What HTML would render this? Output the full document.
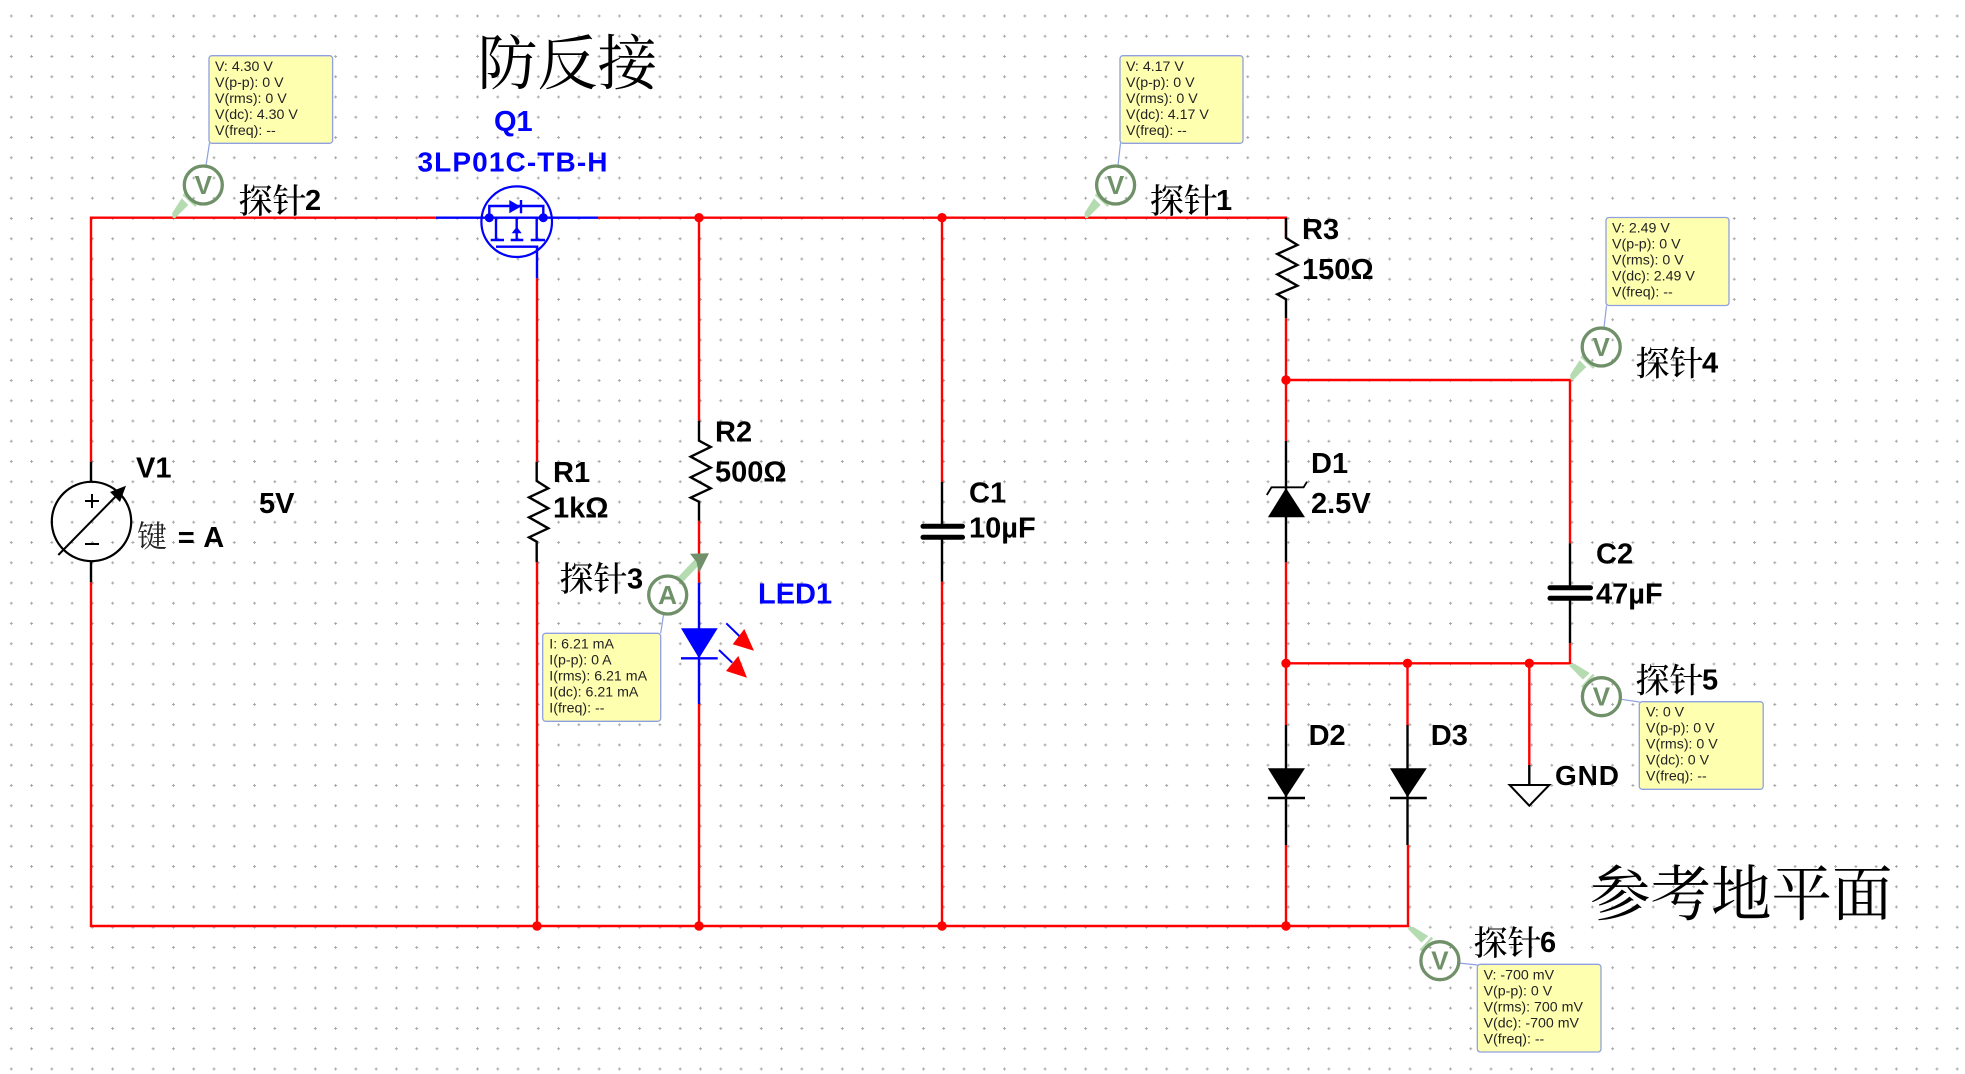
<!DOCTYPE html>
<html><head><meta charset="utf-8"><style>
html,body{margin:0;padding:0;background:#fff}
svg{display:block}
.l{font:bold 29px "Liberation Sans",sans-serif;fill:#000;transform:translate(-1px,0)}
.b{font:bold 29px "Liberation Sans",sans-serif;fill:#0000ff;transform:translate(-1px,0)}
.c{font:500 34px "Liberation Serif","Noto Serif CJK SC",serif;fill:#000;transform:translate(-1.5px,0)}
.t{font:400 60px "Liberation Serif","Noto Serif CJK SC",serif;fill:#000}
.m{font:14.2px "Liberation Sans",sans-serif;fill:#222}
.box{fill:#ffffb0;stroke:#8fa0e0;stroke-width:1.3}
.call{fill:none;stroke:#8fa0e0;stroke-width:1.2}
.r{fill:none;stroke:#ff0000;stroke-width:2.4}
.k{fill:none;stroke:#000;stroke-width:2.4}
.u{fill:none;stroke:#0000ff;stroke-width:2.4}
.pc{fill:#fff;fill-opacity:0;stroke:#6f9068;stroke-width:3.3}
.pl{font:bold 26px "Liberation Sans",sans-serif;fill:#6f9068;text-anchor:middle}
.ph{fill:#b5dbb0}
.pb{stroke:#b5dbb0;stroke-width:2.5;fill:none}
</style></head><body>
<svg width="1965" height="1074" viewBox="0 0 1965 1074" xmlns="http://www.w3.org/2000/svg">
<defs>
<pattern id="g" x="9.3" y="14" width="20.27" height="20.25" patternUnits="userSpaceOnUse">
<path d="M0.5 2H3.5M2 0.5V3.5" stroke="#a8a8a8" stroke-width="1" fill="none"/>
</pattern>
</defs>
<rect width="1965" height="1074" fill="#fff"/>
<rect width="1965" height="1074" fill="url(#g)"/>

<!-- red wires -->
<path class="r" d="M91 461.7V217.7H435.8M598 217.7H1286V238M1286 318.3V441M1286 562.3V725M1286 380H1570V543.3M1570 643.3V663.3H1286M1407.5 663.3V725M1529.3 663.3V765M91 582.3V926H1408V845M537 278.3V461.7M537 562.3V926M699 217.7V420.7M699 520.7V582.7M699 704V926M942 217.7V481.7M942 581.7V926M1286 845V926"/>
<g fill="#ff0000">
<circle cx="699" cy="217.7" r="4.7"/><circle cx="942" cy="217.7" r="4.7"/>
<circle cx="1286" cy="380" r="4.7"/>
<circle cx="1286" cy="663.3" r="4.7"/><circle cx="1407.5" cy="663.3" r="4.7"/><circle cx="1529.3" cy="663.3" r="4.7"/>
<circle cx="537" cy="926" r="4.7"/><circle cx="699" cy="926" r="4.7"/><circle cx="942" cy="926" r="4.7"/><circle cx="1286" cy="926" r="4.7"/>
</g>

<!-- V1 -->
<path class="k" d="M91 461.7V481.7M91 561V582.3"/>
<circle cx="91.5" cy="521.5" r="39.7" fill="none" stroke="#000" stroke-width="2.2"/>
<path d="M85 501H99M92 494V508M85 544H99" stroke="#000" stroke-width="2" fill="none"/>
<path d="M58.3 555L122 490" stroke="#000" stroke-width="2" fill="none"/>
<polygon points="126,485.7 120,502 110,492" fill="#000"/>
<text class="l" x="137" y="477.7">V1</text>
<text class="l" x="260" y="513">5V</text>
<text x="137" y="547" style="font:400 30px 'Liberation Serif','Noto Serif CJK SC',serif;fill:#222">键</text>
<text class="l" x="178.7" y="547">=</text>
<text class="l" x="204.3" y="547">A</text>

<!-- Q1 -->
<text class="b" x="495" y="131">Q1</text>
<text class="b" x="418.5" y="171.7" textLength="190" lengthAdjust="spacing" style="font-size:28px">3LP01C-TB-H</text>
<path class="u" d="M435.8 217.7H598M537 246.7V278.3"/>
<circle cx="516.7" cy="221.7" r="35.3" fill="none" stroke="#0000ff" stroke-width="2.2"/>
<path class="u" d="M489.3 217.7V206H543.3V217.7M496 217.7V239.3M516.7 217.7V239.3M536.7 217.7V239.3M490.7 240H504M510.7 240H523.3M530.7 240H545M496 246.7H538.3"/>
<circle cx="489.3" cy="217.7" r="4.5" fill="#0000ff"/>
<circle cx="543.3" cy="217.7" r="4.5" fill="#0000ff"/>
<polygon points="509.3,200 509.3,213.3 520.7,206.7" fill="#0000ff"/>
<path class="u" d="M521 200V213.3"/>
<polygon points="511.7,233.3 521.7,233.3 516.7,226.7" fill="#0000ff"/>

<!-- R1 -->
<polyline class="k" points="536.7,461.7 536.7,481 548.3,488.3 529,497.3 548.3,508.3 529,517.3 548.3,528.3 529,537.3 536.7,541.7 536.7,562.3"/>
<text class="l" x="554" y="482">R1</text>
<text class="l" x="554" y="517.5">1kΩ</text>
<!-- R2 -->
<polyline class="k" points="699,420.7 699,440.7 710.7,447 690.7,456.7 710.7,467.7 690.7,477.3 710.7,488.3 690.7,497.7 699,501.7 699,520.7"/>
<text class="l" x="716" y="441.7">R2</text>
<text class="l" x="716" y="481.5">500Ω</text>
<!-- R3 -->
<polyline class="k" points="1286,218 1286,238 1297.4,245 1277.3,254 1297.4,265 1277.3,274.3 1297.4,285.7 1277.3,294.3 1286,299.3 1286,318.3"/>
<text class="l" x="1303" y="239">R3</text>
<text class="l" x="1303" y="279">150Ω</text>

<!-- LED -->
<path class="u" d="M699 582.7V704M681 658.3H717.7"/>
<polygon points="681,628.3 717.7,628.3 699,658.3" fill="#0000ff"/>
<path d="M726.3 623.3L739.3 636M719 650L732.3 662.7" stroke="#0000ff" stroke-width="2" fill="none"/>
<polygon points="744.3,629 754,650.7 732.7,644.3" fill="#ff0000"/>
<polygon points="738.3,656 747,677.7 726,671" fill="#ff0000"/>
<text class="b" x="759" y="603.3">LED1</text>

<!-- C1 -->
<path class="k" d="M942 481.7V526M942 537V581.7"/>
<path d="M923 526.3H962.5M923 537.3H962.5" stroke="#000" stroke-width="5" stroke-linecap="round" fill="none"/>
<text class="l" x="970" y="502.3">C1</text>
<text class="l" x="970" y="537.5">10µF</text>
<!-- C2 -->
<path class="k" d="M1570 543.3V588M1570 598V643.3"/>
<path d="M1550 587.7H1590.5M1550 598.3H1590.5" stroke="#000" stroke-width="5" stroke-linecap="round" fill="none"/>
<text class="l" x="1597" y="563.3">C2</text>
<text class="l" x="1597" y="603.3">47µF</text>

<!-- D1 -->
<path class="k" d="M1286 441V562.3"/>
<polygon points="1286,488 1305,517.3 1267.9,517.3" fill="#000"/>
<polyline fill="none" stroke="#000" stroke-width="1.8" points="1266.8,495 1271.5,487.3 1303.6,487.3 1307,481.7"/>
<text class="l" x="1312" y="473">D1</text>
<text class="l" x="1312" y="513">2.5V</text>
<!-- D2 D3 -->
<path class="k" d="M1286 725V845M1407.5 725V845M1267.9 798H1305M1390 798H1426.8"/>
<polygon points="1267.9,768.3 1305,768.3 1286,797.3" fill="#000"/>
<polygon points="1390,768.3 1426.8,768.3 1407.5,797.3" fill="#000"/>
<text class="l" x="1309.6" y="745">D2</text>
<text class="l" x="1431.8" y="745">D3</text>

<!-- GND -->
<path class="k" d="M1529.3 765V785"/>
<polygon points="1509.6,785 1549.3,785 1529.3,805.7" fill="#fff" stroke="#000" stroke-width="2"/>
<text class="l" x="1556" y="785" textLength="64" lengthAdjust="spacing" style="font-size:28px">GND</text>

<!-- Titles -->
<text class="t" x="477.5" y="84.5">防反接</text>
<text class="t" x="1590" y="915" style="font-size:60.5px">参考地平面</text>

<!-- Probe 2 -->
<path class="call" d="M206 165.6L209.5 143"/>
<rect class="box" x="209" y="55.7" width="123.6" height="87.6" rx="3"/>
<text class="m" x="215" y="71">V: 4.30 V</text><text class="m" x="215" y="87">V(p-p): 0 V</text><text class="m" x="215" y="103">V(rms): 0 V</text><text class="m" x="215" y="119">V(dc): 4.30 V</text><text class="m" x="215" y="135">V(freq): --</text>
<g transform="translate(172.7,218)">
<polygon class="ph" points="0,0 -0.5,-5 9,-19.7 15.6,-13 2.3,0.3"/><path class="pb" d="M10.6 -23.7L23.3 -12"/>
<circle class="pc" cx="30.6" cy="-33" r="19"/><text class="pl" x="30.6" y="-24">V</text>
</g>
<text class="c" x="240" y="213">探针</text><text class="l" x="306" y="210">2</text>

<!-- Probe 1 -->
<path class="call" d="M1118 165.6L1120.5 143"/>
<rect class="box" x="1120" y="55.7" width="123" height="87.6" rx="3"/>
<text class="m" x="1126" y="71">V: 4.17 V</text><text class="m" x="1126" y="87">V(p-p): 0 V</text><text class="m" x="1126" y="103">V(rms): 0 V</text><text class="m" x="1126" y="119">V(dc): 4.17 V</text><text class="m" x="1126" y="135">V(freq): --</text>
<g transform="translate(1085,218)">
<polygon class="ph" points="0,0 -0.5,-5 9,-19.7 15.6,-13 2.3,0.3"/><path class="pb" d="M10.6 -23.7L23.3 -12"/>
<circle class="pc" cx="30.6" cy="-33" r="19"/><text class="pl" x="30.6" y="-24">V</text>
</g>
<text class="c" x="1151.4" y="213">探针</text><text class="l" x="1217" y="210">1</text>

<!-- Probe 4 -->
<path class="call" d="M1604 327.6L1606.5 305.7"/>
<rect class="box" x="1606" y="217.5" width="123" height="88" rx="3"/>
<text class="m" x="1612" y="232.7">V: 2.49 V</text><text class="m" x="1612" y="248.7">V(p-p): 0 V</text><text class="m" x="1612" y="264.7">V(rms): 0 V</text><text class="m" x="1612" y="280.7">V(dc): 2.49 V</text><text class="m" x="1612" y="296.7">V(freq): --</text>
<g transform="translate(1570.6,380)">
<polygon class="ph" points="0,0 -0.5,-5 9,-19.7 15.6,-13 2.3,0.3"/><path class="pb" d="M10.6 -23.7L23.3 -12"/>
<circle class="pc" cx="30.6" cy="-33" r="19"/><text class="pl" x="30.6" y="-24">V</text>
</g>
<text class="c" x="1637" y="375.5">探针</text><text class="l" x="1703" y="372.7">4</text>

<!-- Probe 5 -->
<path class="call" d="M1621.4 699.3L1639.5 702"/>
<rect class="box" x="1639.3" y="701.7" width="123.9" height="87.6" rx="3"/>
<text class="m" x="1646" y="716.7">V: 0 V</text><text class="m" x="1646" y="732.7">V(p-p): 0 V</text><text class="m" x="1646" y="748.7">V(rms): 0 V</text><text class="m" x="1646" y="764.7">V(dc): 0 V</text><text class="m" x="1646" y="780.7">V(freq): --</text>
<g transform="translate(1570,664)">
<polygon class="ph" points="0,0 5,0 19.7,9 13,15.6 -0.3,2.3"/><path class="pb" d="M23.7 10.6L12 23.3"/>
<circle class="pc" cx="31.4" cy="32.7" r="19"/><text class="pl" x="31.4" y="41.7">V</text>
</g>
<text class="c" x="1637" y="692.5">探针</text><text class="l" x="1703" y="689.3">5</text>

<!-- Probe 6 -->
<path class="call" d="M1458.5 963L1477.5 965"/>
<rect class="box" x="1477.3" y="964.3" width="123.7" height="87.7" rx="3"/>
<text class="m" x="1483.6" y="979.3">V: -700 mV</text><text class="m" x="1483.6" y="995.3">V(p-p): 0 V</text><text class="m" x="1483.6" y="1011.3">V(rms): 700 mV</text><text class="m" x="1483.6" y="1027.3">V(dc): -700 mV</text><text class="m" x="1483.6" y="1043.3">V(freq): --</text>
<g transform="translate(1408.5,927)">
<polygon class="ph" points="0,0 5,0 19.7,9 13,15.6 -0.3,2.3"/><path class="pb" d="M23.7 10.6L12 23.3"/>
<circle class="pc" cx="31.4" cy="33.7" r="19"/><text class="pl" x="31.4" y="42.7">V</text>
</g>
<text class="c" x="1475" y="955">探针</text><text class="l" x="1541" y="952">6</text>

<!-- Probe 3 -->
<path class="call" d="M663.5 615L660.7 633.3"/>
<rect class="box" x="542.7" y="633.3" width="118" height="88" rx="3"/>
<text class="m" x="549.3" y="648.3">I: 6.21 mA</text><text class="m" x="549.3" y="664.3">I(p-p): 0 A</text><text class="m" x="549.3" y="680.3">I(rms): 6.21 mA</text><text class="m" x="549.3" y="696.3">I(dc): 6.21 mA</text><text class="m" x="549.3" y="712.3">I(freq): --</text>
<path d="M681 579L698 561" stroke="#b5dbb0" stroke-width="7" fill="none"/>
<path class="pb" d="M676.5 576L685 585"/>
<polygon points="709,553.3 690,553.8 696.5,562 699,573.3" fill="#6f9068"/>
<circle class="pc" cx="667.7" cy="595" r="19"/><text class="pl" x="667.7" y="604">A</text>
<text class="c" x="561" y="591">探针</text><text class="l" x="628" y="588.3">3</text>
</svg>
</body></html>
